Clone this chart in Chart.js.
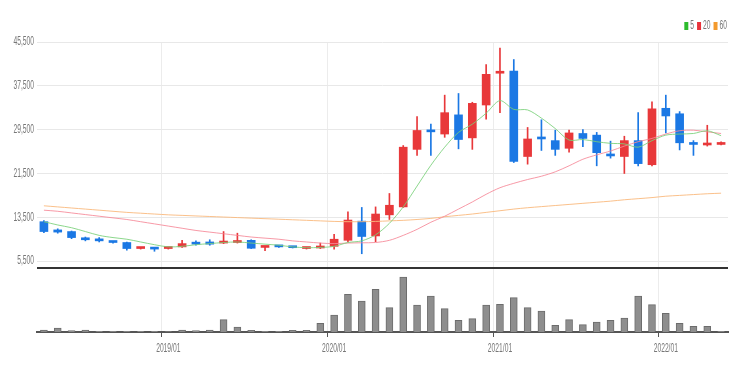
<!DOCTYPE html>
<html>
<head>
<meta charset="utf-8">
<script src="https://cdn.jsdelivr.net/npm/chart.js@4.4.0/dist/chart.umd.min.js"></script>
<style>
html, body { margin: 0; padding: 0; background: #fff; }
#wrap { width: 743px; height: 373px; position: relative; }
</style>
</head>
<body>
<div id="wrap"><canvas id="myChart"></canvas></div>
<script>
const months = ['2018/04','2018/05','2018/06','2018/07','2018/08','2018/09','2018/10','2018/11','2018/12',
  '2019/01','2019/02','2019/03','2019/04','2019/05','2019/06','2019/07','2019/08','2019/09','2019/10','2019/11','2019/12',
  '2020/01','2020/02','2020/03','2020/04','2020/05','2020/06','2020/07','2020/08','2020/09','2020/10','2020/11','2020/12',
  '2021/01','2021/02','2021/03','2021/04','2021/05','2021/06','2021/07','2021/08','2021/09','2021/10','2021/11','2021/12',
  '2022/01','2022/02','2022/03','2022/04','2022/05'];

const open  = [12700,11200,10900,9700,9500,9000,8900,7800,7900,7800,8100,8950,9000,8800,8900,9300,8000,8300,8100,7800,7900,
  8200,9300,12800,10100,13950,15400,25900,29400,28700,32200,28000,34000,39800,40200,24600,28000,27500,26100,28800,28500,
  25000,24600,27500,23100,33400,32400,27000,26700,26800];
const high  = [12900,11400,11000,9900,9800,9100,9000,8000,8000,8000,9300,9200,9400,10900,10600,9400,8200,8400,8150,8000,8800,
  10400,14500,15300,15400,17850,26600,31900,30500,35800,36100,34500,41400,44400,42300,29900,31300,29400,29400,29500,29000,
  27400,28300,32600,34600,35800,32800,27500,30300,27300];
const low   = [10700,10600,9600,9200,9000,8800,7500,7700,7300,7700,8000,8400,8400,8700,8800,7800,7400,8000,7900,7700,7800,
  7700,9000,6850,9050,13100,15300,24800,24800,28100,26000,25900,31400,32600,23500,23200,25700,24800,25400,26400,22900,
  24300,21500,22900,22900,28900,25800,24800,26500,26700];
const close = [10900,10800,9800,9400,9200,8900,7800,7900,7700,7900,8700,8600,8600,9000,9200,7850,8100,8100,7950,7900,8000,
  9500,13000,10000,14100,15700,26300,29350,29100,32600,27700,34300,39600,40000,23700,27800,27800,25900,28900,27900,25300,
  24700,27500,23300,33300,32000,27100,26800,26900,27150];

const volume = [20,40,13,20,7,7,7,7,7,3,20,13,20,123,50,17,7,7,17,17,87,170,377,310,427,243,550,270,360,233,117,133,
  270,277,343,243,210,67,123,73,100,117,140,360,273,187,87,57,57,7];

const ma5  = [12700,12100,11600,10900,10200,9800,9500,9000,8500,8100,8200,8500,8700,8900,9000,8800,8600,8400,8100,7950,8000,
  8200,8900,9200,10300,12400,15400,19200,23000,26300,29000,30500,32500,34800,33200,33100,31600,29700,27600,27700,27300,
  27000,26900,26300,27500,28500,28700,28800,29300,28400];
const ma20 = [14800,14600,14300,14000,13700,13400,13100,12700,12300,11900,11500,11100,10800,10500,10200,9900,9700,9500,9200,9000,8800,
  8700,8800,8850,8900,9300,10200,11300,12600,13700,15000,16300,17700,18900,19700,20400,21000,21800,22900,24100,24900,
  25600,26500,27300,27900,28700,29300,29400,29100,28800];
const ma60 = [15600,15400,15200,15000,14800,14600,14400,14250,14100,13950,13850,13750,13650,13550,13450,13350,13250,13150,13050,12950,12850,
  12750,12700,12700,12750,12850,12950,13100,13300,13600,13850,14100,14400,14700,15000,15250,15450,15650,15850,16050,16250,
  16450,16700,16900,17100,17350,17500,17650,17800,17900];

const priceTicks = [5500, 13500, 21500, 29500, 37500, 45500];

const RED = '#e8383a';
const BLUE = '#1b78e4';
const TEXT = '#777';
const FONT = "12px 'Liberation Sans', Arial, sans-serif";
const SX = 0.56; // labels in the original are drawn very narrow

const bodies = months.map((m, i) => [open[i], close[i]]);
const wicks = months.map((m, i) => [low[i], high[i]]);
const candleColor = ctx => close[ctx.dataIndex] >= open[ctx.dataIndex] ? RED : BLUE;
const isJan = i => months[i] && months[i].endsWith('/01');

function narrowText(c, text, x, y, align) {
  c.save();
  c.translate(x, y);
  c.scale(SX, 1);
  c.textAlign = align;
  c.textBaseline = 'middle';
  c.fillText(text, 0, 0);
  c.restore();
}

// separator line, condensed axis labels and the small legend
const extras = {
  id: 'extras',
  afterDatasetsDraw(chart) {
    const c = chart.ctx, a = chart.chartArea;
    const ys = chart.scales.y, xs = chart.scales.x;

    c.save();
    c.strokeStyle = '#333';
    c.lineWidth = 2;
    c.beginPath();
    c.moveTo(a.left, ys.bottom);
    c.lineTo(a.right, ys.bottom);
    c.stroke();

    c.font = FONT;
    c.fillStyle = TEXT;
    priceTicks.forEach(v => {
      narrowText(c, v.toLocaleString('en-US'), ys.right - 3, ys.getPixelForValue(v), 'right');
    });
    months.forEach((m, i) => {
      if (isJan(i)) narrowText(c, m, xs.getPixelForValue(i), a.bottom + 16.5, 'center');
    });

    // legend, laid out right to left
    const lines = chart.data.datasets.filter(d => d.type === 'line');
    let x = a.right - 1;
    for (let k = lines.length - 1; k >= 0; k--) {
      const d = lines[k];
      const w = c.measureText(d.label).width * SX;
      c.fillStyle = TEXT;
      narrowText(c, d.label, x - w, 26, 'left');
      x -= w + 2;
      c.fillStyle = d.backgroundColor;
      c.fillRect(x - 4, 22, 4, 8);
      x -= 4 + 3;
    }
    c.restore();
  }
};

new Chart(document.getElementById('myChart'), {
  type: 'bar',
  data: {
    labels: months,
    datasets: [
      { type: 'line', label: '5', data: ma5, borderColor: 'rgba(120,208,120,0.85)', backgroundColor: '#2dbb2d',
        borderWidth: 1, pointRadius: 0, tension: 0.3, yAxisID: 'y', order: 0 },
      { type: 'line', label: '20', data: ma20, borderColor: 'rgba(246,135,150,0.85)', backgroundColor: '#e8333a',
        borderWidth: 1, pointRadius: 0, tension: 0.3, yAxisID: 'y', order: 0 },
      { type: 'line', label: '60', data: ma60, borderColor: 'rgba(249,185,125,0.9)', backgroundColor: '#f39a2e',
        borderWidth: 1, pointRadius: 0, tension: 0.3, yAxisID: 'y', order: 0 },
      { label: 'body', data: bodies, backgroundColor: candleColor, barThickness: 8, minBarLength: 2,
        grouped: false, yAxisID: 'y', order: 1 },
      { label: 'wick', data: wicks, backgroundColor: candleColor, barThickness: 1,
        grouped: false, yAxisID: 'y', order: 2 },
      { label: 'volume', data: volume, backgroundColor: '#8e8e8e', borderColor: '#6c6c6c',
        borderWidth: { top: 1, left: 1, right: 1, bottom: 0 }, barThickness: 7,
        grouped: false, yAxisID: 'yv', order: 3 }
    ]
  },
  options: {
    responsive: true,
    maintainAspectRatio: false,
    animation: false,
    layout: { padding: { top: 42, right: 15, bottom: 36, left: 0 } },
    plugins: {
      tooltip: { enabled: false },
      legend: { display: false }
    },
    scales: {
      x: {
        type: 'category',
        offset: true,
        grid: {
          color: ctx => isJan(ctx.index) ? '#ececec' : 'rgba(0,0,0,0)',
          tickColor: ctx => isJan(ctx.index) ? '#555' : 'rgba(0,0,0,0)',
          tickLength: 5
        },
        border: { color: '#555', width: 2 },
        ticks: { display: false, autoSkip: false }
      },
      yv: {
        stack: 'main',
        stackWeight: 1,
        min: 0,
        max: 640,
        afterFit: s => { s.width = 37; },
        grid: { display: false },
        border: { display: false },
        ticks: { display: false }
      },
      y: {
        stack: 'main',
        stackWeight: 3.53,
        min: 4250,
        max: 45500,
        afterBuildTicks: s => { s.ticks = priceTicks.map(v => ({ value: v })); },
        afterFit: s => { s.width = 37; },
        grid: { color: '#e8e8e8', drawTicks: false },
        border: { display: false },
        ticks: { display: false }
      }
    }
  },
  plugins: [extras]
});
</script>
</body>
</html>
